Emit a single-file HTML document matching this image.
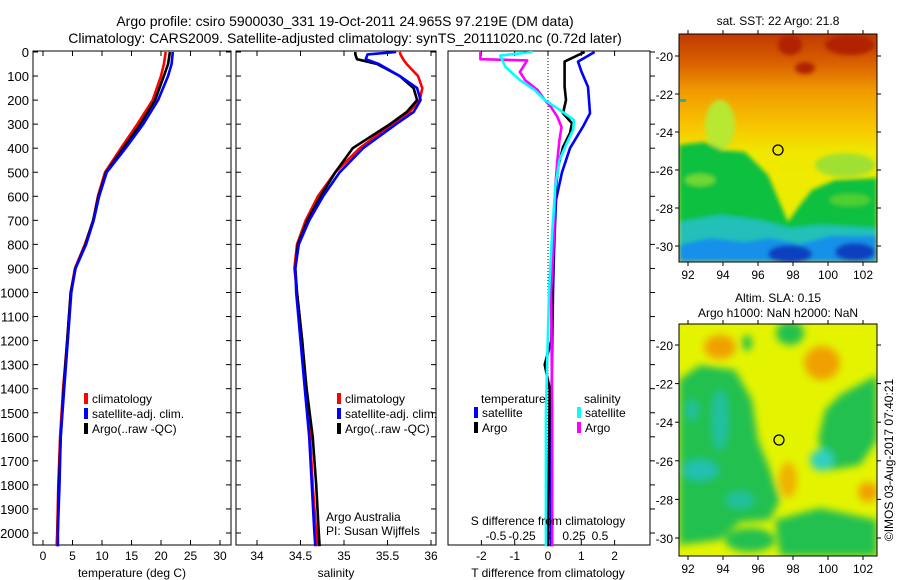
<!DOCTYPE html>
<html><head><meta charset="utf-8">
<style>
body{margin:0;background:#fff;}
svg{display:block;font-family:"Liberation Sans",sans-serif;}
</style></head>
<body>
<svg id="c" width="900" height="580" viewBox="0 0 900 580" xmlns="http://www.w3.org/2000/svg">
<defs>
<filter id="bl" x="-20%" y="-20%" width="140%" height="140%"><feGaussianBlur stdDeviation="4"/></filter>
<filter id="bl2" x="-20%" y="-20%" width="140%" height="140%"><feGaussianBlur stdDeviation="2"/></filter>
<clipPath id="m1"><rect x="679" y="34" width="198" height="228"/></clipPath>
<clipPath id="m2"><rect x="679" y="324" width="198" height="232"/></clipPath>
<linearGradient id="sstg" x1="0" y1="0" x2="0" y2="1">
<stop offset="0" stop-color="#c03a00"/><stop offset="0.12" stop-color="#d85e00"/>
<stop offset="0.25" stop-color="#f09a00"/><stop offset="0.4" stop-color="#f8c400"/>
<stop offset="0.52" stop-color="#f0e800"/><stop offset="1" stop-color="#e8f000"/>
</linearGradient>
</defs>
<text x="345" y="26" font-size="14" text-anchor="middle">Argo profile: csiro 5900030_331 19-Oct-2011 24.965S 97.219E (DM data)</text>
<text x="345" y="43" font-size="14" text-anchor="middle">Climatology: CARS2009. Satellite-adjusted climatology: synTS_20111020.nc (0.72d later)</text>
<g id="p1"></g>
<g id="p2"></g>
<g id="p3"></g>

<g clip-path="url(#m1)">
<rect x="679" y="34" width="198" height="228" fill="url(#sstg)"/>
<g filter="url(#bl2)">
<ellipse cx="850" cy="45" rx="25" ry="10" fill="#b02000"/>
<ellipse cx="790" cy="45" rx="12" ry="10" fill="#b02000"/>
<ellipse cx="805" cy="68" rx="10" ry="6" fill="#b02000"/>
<ellipse cx="720" cy="125" rx="15" ry="25" fill="#b8e830"/>
<ellipse cx="845" cy="165" rx="30" ry="12" fill="#a0e030"/>
<polygon points="679,145 705,142 722,150 745,152 768,175 788,222 800,205 812,190 835,180 877,178 877,262 679,262" fill="#10c040"/>
<ellipse cx="700" cy="180" rx="15" ry="6" fill="#70d830"/>
<ellipse cx="850" cy="200" rx="20" ry="6" fill="#50d030"/>
<polygon points="679,222 720,215 760,220 790,228 820,225 877,228 877,262 679,262" fill="#20c0b8"/>
<polygon points="679,245 710,238 745,242 770,238 800,244 830,236 877,236 877,262 679,262" fill="#1890e8"/>
<ellipse cx="790" cy="254" rx="22" ry="9" fill="#1040c0"/>
<ellipse cx="855" cy="252" rx="20" ry="9" fill="#1040c0"/>
</g>
<rect x="680" y="99" width="6" height="3" fill="#20b0b0"/>
</g>
<rect x="679" y="34" width="198" height="228" fill="none" stroke="#000"/>
<circle cx="778" cy="150" r="5" fill="none" stroke="#000" stroke-width="1.3"/>
<text x="778" y="25" font-size="12" text-anchor="middle">sat. SST: 22 Argo: 21.8</text>

<g clip-path="url(#m2)">
<rect x="679" y="324" width="198" height="232" fill="#e4f400"/>
<g filter="url(#bl)">
<ellipse cx="720" cy="347" rx="16" ry="12" fill="#f0a000"/>
<ellipse cx="822" cy="363" rx="18" ry="17" fill="#f0a000"/>
<ellipse cx="788" cy="480" rx="9" ry="18" fill="#f0b000"/>
<ellipse cx="868" cy="492" rx="10" ry="10" fill="#f0a000"/>
<polygon points="679,380 700,365 735,370 752,400 758,440 770,470 780,500 770,520 740,522 720,540 679,545" fill="#20c050"/>
<polygon points="840,395 877,375 877,440 860,465 830,470 818,440 825,410" fill="#20c050"/>
<polygon points="775,520 820,508 877,520 877,556 780,556" fill="#20c050"/>
<ellipse cx="750" cy="540" rx="25" ry="12" fill="#20c050"/>
<ellipse cx="790" cy="333" rx="14" ry="12" fill="#20c050"/>
<ellipse cx="747" cy="343" rx="5" ry="8" fill="#20c050"/>
<ellipse cx="720" cy="420" rx="8" ry="30" fill="#20c0a0"/>
<ellipse cx="700" cy="470" rx="18" ry="10" fill="#20c0b0"/>
<ellipse cx="692" cy="410" rx="6" ry="10" fill="#20c0a0"/>
<ellipse cx="822" cy="460" rx="12" ry="11" fill="#30d0c0"/>
<ellipse cx="740" cy="500" rx="14" ry="8" fill="#20c0a0"/>
</g>
</g>
<rect x="679" y="324" width="198" height="232" fill="none" stroke="#000"/>
<circle cx="779" cy="440" r="5" fill="none" stroke="#000" stroke-width="1.3"/>
<text x="778" y="302" font-size="12" text-anchor="middle">Altim. SLA: 0.15</text>
<text x="778" y="317" font-size="12" text-anchor="middle">Argo h1000: NaN h2000: NaN</text>
<text transform="translate(893,460) rotate(-90)" font-size="12" text-anchor="middle">©IMOS 03-Aug-2017 07:40:21</text>
<g id="maxes"></g>
</svg>
<script>
const tDepths   = [0, 50, 100, 200, 300, 400, 500, 600, 700, 800, 900, 1000, 1200, 1400, 1600, 1800, 2000, 2055];
const tempClim  = [20.8, 20.5, 20.0, 18.6, 16.0, 13.2, 10.5, 9.3, 8.5, 7.1, 5.4, 4.7, 4.1, 3.4, 2.9, 2.6, 2.4, 2.3];
const tempSat   = [22.0, 21.8, 21.2, 19.5, 17.0, 14.0, 10.8, 9.5, 8.6, 7.3, 5.5, 4.8, 4.2, 3.6, 3.0, 2.8, 2.5, 2.5];
const tempArgo  = [21.5, 21.2, 20.5, 19.0, 16.5, 13.6, 10.7, 9.4, 8.5, 7.2, 5.5, 4.7, 4.1, 3.5, 3.0, 2.7, 2.5, 2.5];
const sDepths   = [0, 10, 30, 50, 100, 150, 200, 250, 300, 400, 500, 600, 700, 800, 900, 1000, 1200, 1400, 1600, 1800, 2000, 2055];
const salClim   = [35.64, 35.65, 35.68, 35.72, 35.85, 35.9, 35.87, 35.75, 35.55, 35.18, 34.9, 34.7, 34.56, 34.46, 34.43, 34.46, 34.52, 34.56, 34.61, 34.64, 34.68, 34.7];
const salSat    = [35.6, 35.27, 35.25, 35.4, 35.64, 35.84, 35.88, 35.8, 35.6, 35.22, 34.95, 34.76, 34.6, 34.48, 34.44, 34.45, 34.5, 34.55, 34.6, 34.63, 34.66, 34.67];
const salArgo   = [35.13, 35.13, 35.15, 35.38, 35.64, 35.8, 35.84, 35.72, 35.53, 35.1, 34.9, 34.73, 34.58, 34.47, 34.44, 34.46, 34.52, 34.57, 34.64, 34.68, 34.71, 34.72];
const dtSatDepth  = [0, 40, 80, 145, 255, 310, 400, 500, 615, 835, 1000, 1500, 2055];
const dtSat       = [1.4, 0.9, 1.0, 1.2, 1.26, 1.05, 0.66, 0.42, 0.24, 0.18, 0.15, 0.1, 0.09];
const dtArgoDepth = [0, 40, 145, 200, 255, 296, 337, 396, 480, 615, 895, 1200, 1300, 1400, 2055];
const dtArgo      = [1.1, 0.5, 0.5, 0.54, 0.45, 0.72, 0.66, 0.45, 0.3, 0.2, 0.15, 0.1, -0.1, 0.05, 0.0];
const dsSatDepth  = [0, 15, 62, 117, 158, 200, 240, 283, 325, 380, 450, 560, 750, 1000, 1500, 2055];
const dsSat       = [-0.15, -0.46, -0.41, -0.27, -0.13, -0.03, 0.11, 0.25, 0.24, 0.18, 0.11, 0.07, 0.04, 0.01, -0.02, -0.02];
const dsArgoDepth = [0, 12, 30, 35, 83, 117, 158, 200, 229, 270, 312, 367, 450, 560, 750, 1000, 1500, 2055];
const dsArgo      = [-0.65, -0.65, -0.65, -0.2, -0.27, -0.22, -0.1, -0.03, 0.03, 0.09, 0.13, 0.11, 0.09, 0.07, 0.06, 0.03, 0.04, 0.04];
const depthTicks = [0,100,200,300,400,500,600,700,800,900,1000,1100,1200,1300,1400,1500,1600,1700,1800,1900,2000];
const tempTicks = [0,5,10,15,20,25,30];
const salTicks = [34,34.5,35,35.5,36];
const tdTicks = [-2,-1,0,1,2];
const sdTicks = [-0.5,-0.25,0,0.25,0.5];
const latTicks = [-20,-22,-24,-26,-28,-30];
const lonTicks = [92,94,96,98,100,102];

const NS='http://www.w3.org/2000/svg';
const TOP=52, BOT=545;
const yD = d => TOP + d*0.2405;
const xT = t => 43 + t*5.9;
const xS = s => 257 + (s-34)*87;
const xTD = v => 548 + v*33.3;
const xSD = v => 548 + v*104;
function el(tag, attrs, parent){const e=document.createElementNS(NS,tag);for(const k in attrs)e.setAttribute(k,attrs[k]);parent.appendChild(e);return e;}
function txt(parent,x,y,s,anchor,size){const t=el('text',{x:x,y:y,'font-size':size||12,'text-anchor':anchor||'middle'},parent);t.textContent=s;return t;}
function line(parent,xf,vals,depths,color,name){
  const pts=vals.map((v,i)=>xf(v).toFixed(1)+','+yD(depths[i]).toFixed(1)).join(' ');
  const p=el('polyline',{points:pts,fill:'none',stroke:color,'stroke-width':2.6,'stroke-linejoin':'round'},parent);
  
  
}
function frame(g,x0,x1,xf,ticks,labels,leftLabels,rightOut){
  el('rect',{x:x0,y:TOP-1,width:x1-x0,height:BOT-TOP+1,fill:'none',stroke:'#000'},g);
  depthTicks.forEach(d=>{
    const y=yD(d);
    if(rightOut){el('line',{x1:x1,x2:x1+5,y1:y,y2:y,stroke:'#000'},g);}
    else{el('line',{x1:x0,x2:x0+5,y1:y,y2:y,stroke:'#000'},g);el('line',{x1:x1-5,x2:x1,y1:y,y2:y,stroke:'#000'},g);}
    if(leftLabels){const t=txt(g,x0-4,y+5,String(d),'end',13);}
  });
  ticks.forEach((v,i)=>{
    const x=xf(v);
    el('line',{x1:x,x2:x,y1:BOT,y2:BOT-5,stroke:'#000'},g);
    el('line',{x1:x,x2:x,y1:TOP-1,y2:TOP+4,stroke:'#000'},g);
    if(labels){const t=txt(g,x,BOT+15,labels[i],'middle',12);}
  });
}
function legendEntry(g,x,y,color,label){
  el('rect',{x:x,y:y-10,width:4,height:11,fill:color},g);
  const t=txt(g,x+8,y,label,'start',12);
  
  
}
const p1=document.getElementById('p1');
frame(p1,33,231,xT,tempTicks,tempTicks.map(String),true,false);
line(p1,xT,tempClim,tDepths,'#f00','temp-climatology-line');
line(p1,xT,tempArgo,tDepths,'#000','temp-argo-line');
line(p1,xT,tempSat,tDepths,'#00f','temp-satellite-line');
legendEntry(p1,84,403,'#f00','climatology');
legendEntry(p1,84,418,'#00f','satellite-adj. clim.');
legendEntry(p1,84,433,'#000','Argo(..raw -QC)');
txt(p1,132,577,'temperature (deg C)','middle',12);
const p2=document.getElementById('p2');
frame(p2,236,436,xS,salTicks,salTicks.map(String),false,false);
line(p2,xS,salClim,sDepths,'#f00','sal-climatology-line');
line(p2,xS,salArgo,sDepths,'#000','sal-argo-line');
line(p2,xS,salSat,sDepths,'#00f','sal-satellite-line');
legendEntry(p2,337,403,'#f00','climatology');
legendEntry(p2,337,418,'#00f','satellite-adj. clim.');
legendEntry(p2,337,433,'#000','Argo(..raw -QC)');
txt(p2,326,521,'Argo Australia','start',12);
txt(p2,326,535,'PI: Susan Wijffels','start',12);
txt(p2,336,577,'salinity','middle',12);
const p3=document.getElementById('p3');
frame(p3,448,650,xTD,tdTicks,tdTicks.map(String),false,true);
sdTicks.forEach(v=>{txt(p3,xSD(v),540,String(v),'middle',12);});
el('line',{x1:548,x2:548,y1:TOP,y2:BOT,stroke:'#000','stroke-dasharray':'1,2'},p3);
line(p3,xTD,dtSat,dtSatDepth,'#00f','tdiff-satellite-line');
line(p3,xTD,dtArgo,dtArgoDepth,'#000','tdiff-argo-line');
line(p3,xSD,dsArgo,dsArgoDepth,'#f0f','sdiff-argo-line');
line(p3,xSD,dsSat,dsSatDepth,'#0ff','sdiff-satellite-line');
txt(p3,481,403,'temperature','start',12);
legendEntry(p3,474,417,'#00f','satellite');
legendEntry(p3,474,432,'#000','Argo');
txt(p3,584,403,'salinity','start',12);
legendEntry(p3,577,417,'#0ff','satellite');
legendEntry(p3,577,432,'#f0f','Argo');
txt(p3,548,525,'S difference from climatology','middle',12);
txt(p3,548,577,'T difference from climatology','middle',12);
const ma=document.getElementById('maxes');
function mapAxes(y0,y1,latY){
  latTicks.forEach(l=>{const y=latY(l);
    el('line',{x1:679,x2:675,y1:y,y2:y,stroke:'#000'},ma);
    el('line',{x1:877,x2:881,y1:y,y2:y,stroke:'#000'},ma);
    txt(ma,673,y+5,String(l),'end',12);});
  lonTicks.forEach(l=>{const x=688+(l-92)*17.5;
    el('line',{x1:x,x2:x,y1:y1,y2:y1+4,stroke:'#000'},ma);
    el('line',{x1:x,x2:x,y1:y0,y2:y0-4,stroke:'#000'},ma);
    txt(ma,x,y1+17,String(l),'middle',12);});
}
mapAxes(34,262,l=>56+(-20-l)*19.0);
mapAxes(324,556,l=>345+(-20-l)*19.3);
</script>
</body></html>
